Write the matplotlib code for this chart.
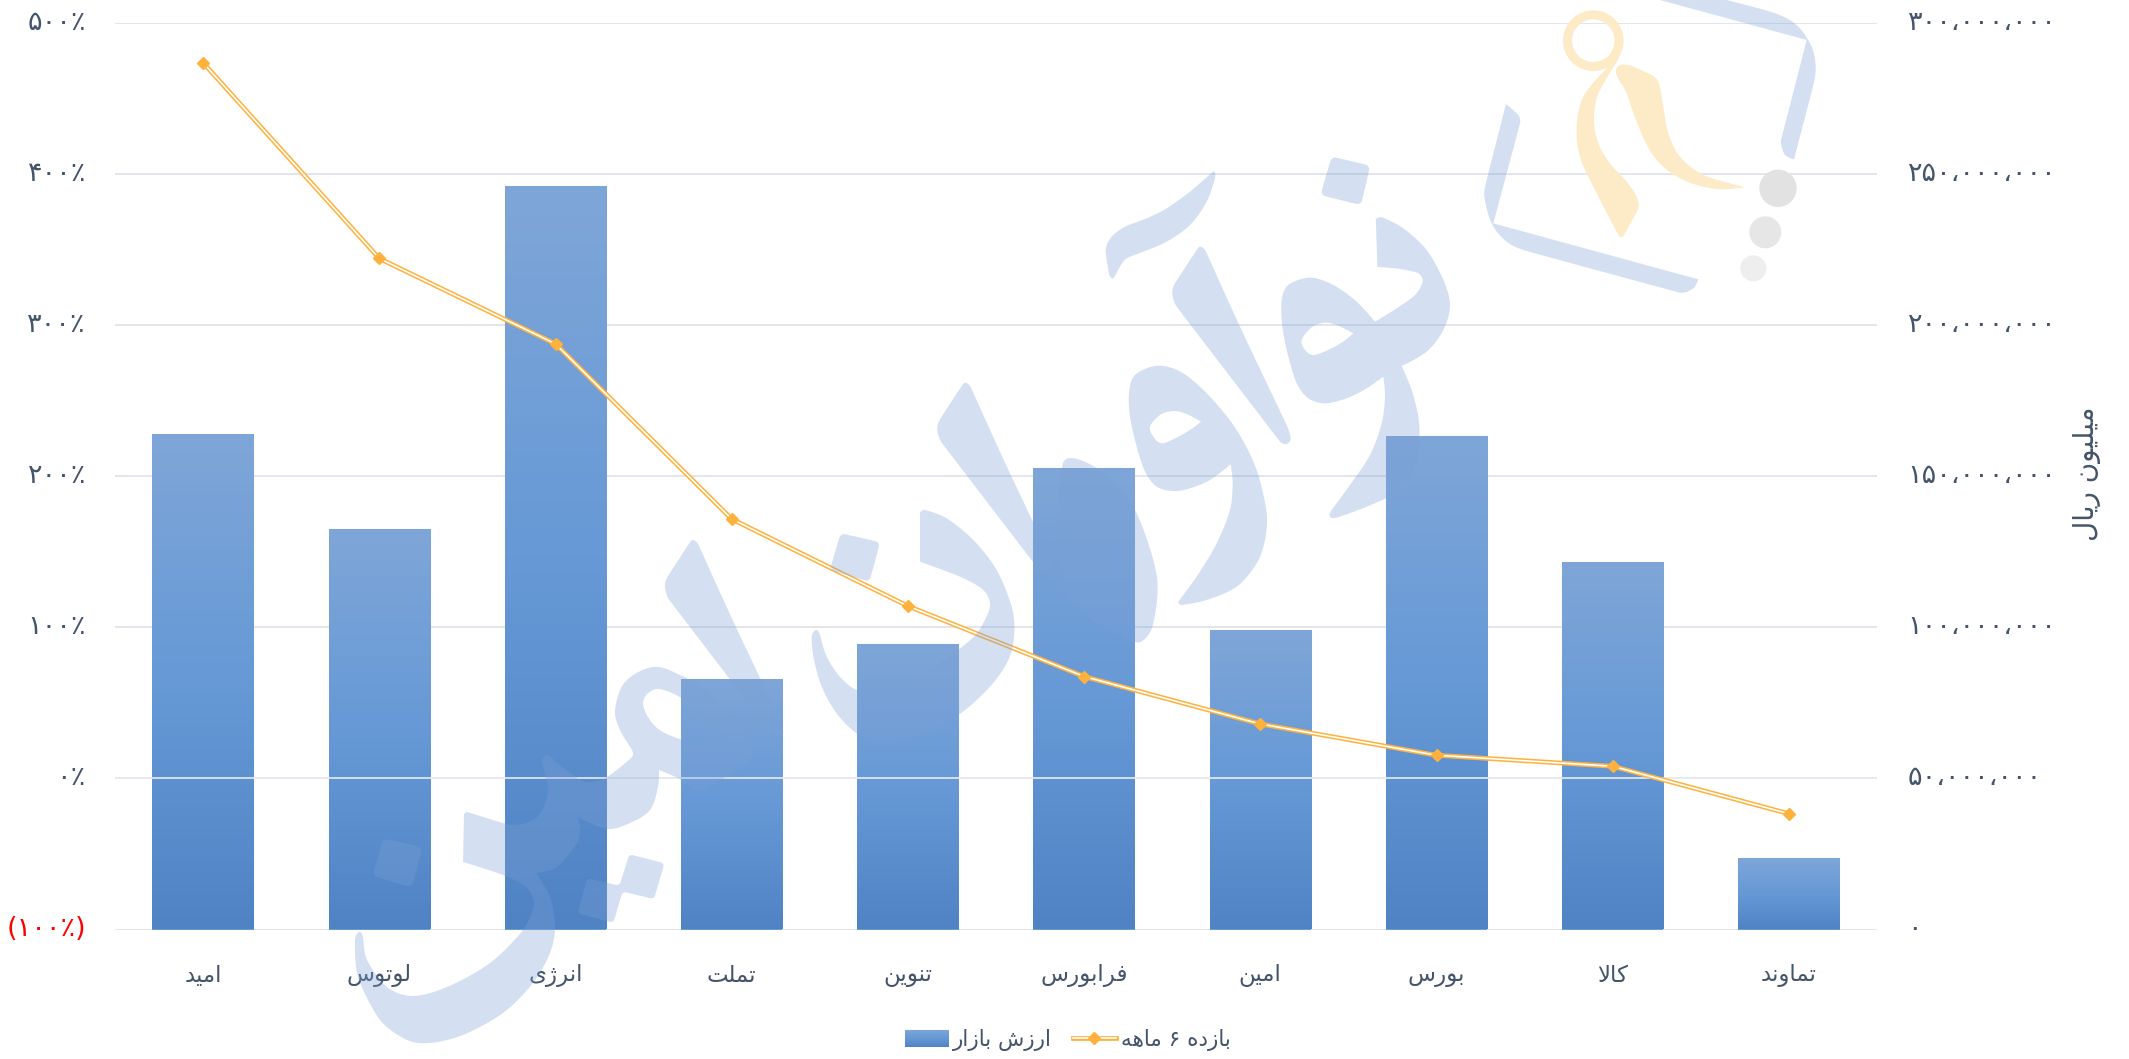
#%%
# IMPORT LIBRARIES
import numpy as np
import matplotlib
matplotlib.use('Agg')
import matplotlib.pyplot as plt
from matplotlib.path import Path
from matplotlib.patches import PathPatch, Patch, Circle
from matplotlib.lines import Line2D
from matplotlib.legend_handler import HandlerTuple
from matplotlib.transforms import ScaledTranslation

plt.rcParams['font.family'] = ['DejaVu Sans']

#%%
# DATA
categories = ['امید', 'لوتوس', 'انرژی', 'تملت', 'تنوین', 'فرابورس', 'امین', 'بورس', 'کالا', 'تماوند']
market_value = [164e6, 132.6e6, 246e6, 82.9e6, 94.6e6, 152.8e6, 99e6, 163.3e6, 121.5e6, 23.6e6]
six_month_return = [473.5, 344, 287.5, 171.6, 114, 67.4, 36, 15.3, 8, -23.4]

value_ticks = [0, 50e6, 100e6, 150e6, 200e6, 250e6, 300e6]
value_ticklabels = ['۰', '۵۰،۰۰۰،۰۰۰', '۱۰۰،۰۰۰،۰۰۰', '۱۵۰،۰۰۰،۰۰۰', '۲۰۰،۰۰۰،۰۰۰', '۲۵۰،۰۰۰،۰۰۰', '۳۰۰،۰۰۰،۰۰۰']
return_ticks = [-100, 0, 100, 200, 300, 400, 500]
return_ticklabels = ['(۱۰۰٪)', '۰٪', '۱۰۰٪', '۲۰۰٪', '۳۰۰٪', '۴۰۰٪', '۵۰۰٪']

bar_label = 'ارزش بازار'
line_label = 'بازده ۶ ماهه'
value_axis_title = 'میلیون ریال'

text_color = '#44546a'
grid_color = '#dfe4ea'
orange = '#ffb13d'

#%%
# persian shaping, matplotlib does no joining or rtl by itself
forms = {
    'ا': (0xFE8D, 0xFE8E, None, None), 'ب': (0xFE8F, 0xFE90, 0xFE91, 0xFE92),
    'ت': (0xFE95, 0xFE96, 0xFE97, 0xFE98), 'د': (0xFEA9, 0xFEAA, None, None),
    'ر': (0xFEAD, 0xFEAE, None, None), 'ز': (0xFEAF, 0xFEB0, None, None),
    'ژ': (0xFB8A, 0xFB8B, None, None), 'س': (0xFEB1, 0xFEB2, 0xFEB3, 0xFEB4),
    'ش': (0xFEB5, 0xFEB6, 0xFEB7, 0xFEB8), 'ف': (0xFED1, 0xFED2, 0xFED3, 0xFED4),
    'ک': (0xFB8E, 0xFB8F, 0xFB90, 0xFB91), 'ل': (0xFEDD, 0xFEDE, 0xFEDF, 0xFEE0),
    'م': (0xFEE1, 0xFEE2, 0xFEE3, 0xFEE4), 'ن': (0xFEE5, 0xFEE6, 0xFEE7, 0xFEE8),
    'و': (0xFEED, 0xFEEE, None, None), 'ه': (0xFEE9, 0xFEEA, 0xFEEB, 0xFEEC),
    'ی': (0xFBFC, 0xFBFD, 0xFBFE, 0xFBFF),
}


def shape(text):
    out = []
    i = 0
    while i < len(text):
        ch = text[i]
        if ch not in forms:
            out.append(ch)
            i += 1
            continue
        prev = text[i - 1] if i > 0 else ' '
        joins_prev = prev in forms and forms[prev][2] is not None
        if ch == 'ل' and i + 1 < len(text) and text[i + 1] == 'ا':
            out.append(chr(0xFEFC if joins_prev else 0xFEFB))
            i += 2
            continue
        next_ch = text[i + 1] if i + 1 < len(text) else ' '
        joins_next = forms[ch][2] is not None and next_ch in forms
        if joins_prev and joins_next:
            code = forms[ch][3]
        elif joins_prev:
            code = forms[ch][1]
        elif joins_next:
            code = forms[ch][2]
        else:
            code = forms[ch][0]
        out.append(chr(code))
        i += 1
    return ''.join(reversed(out))


#%%
# FIGURE
W, H = 2129, 1059
fig = plt.figure(figsize=(W / 100, H / 100), dpi=100, facecolor='white')
ax = fig.add_axes([115 / W, 1 - 929.5 / H, (1877 - 115) / W, (929.5 - 22.7) / H])
ax2 = ax.twinx()

x = np.arange(len(categories))

# bars with office style gradient
grad_colors = np.array([[0x7f, 0xa6, 0xd8], [0x66, 0x99, 0xd6], [0x50, 0x83, 0xc4]]) / 255
t = np.linspace(0, 1, 256)
grad = np.stack([np.interp(t, [0, 0.5, 1], grad_colors[:, c]) for c in range(3)], axis=1)[:, None, :]

bars = ax.bar(x, market_value, width=0.575, color='#6699d6', zorder=2)
for b in bars:
    im = ax.imshow(grad, aspect='auto', zorder=2.5,
                   extent=(b.get_x(), b.get_x() + b.get_width(), 0, b.get_height()))
    im.set_clip_path(b)

ax.set_xlim(-0.5, len(categories) - 0.5)
ax.set_ylim(0, 300e6)
ax2.set_ylim(-100, 500)

ax.yaxis.tick_right()
ax2.yaxis.tick_left()
ax.set_yticks(value_ticks)
ax.set_yticklabels(value_ticklabels, fontsize=19.5, color=text_color)
ax2.set_yticks(return_ticks)
ax2.set_yticklabels(return_ticklabels, fontsize=19.5, color=text_color)
ax2.get_yticklabels()[0].set_color('#ff0000')
ax.tick_params(axis='y', length=0, pad=22)
ax2.tick_params(axis='y', length=0, pad=21)
ax.set_xticks(x)
ax.set_xticklabels([shape(c) for c in categories], fontsize=16.5, color=text_color)
ax.tick_params(axis='x', length=0, pad=25)

# labels sit a little above the gridlines
nudge = ScaledTranslation(0, 3 / 100, fig.dpi_scale_trans)
for lab in ax.get_yticklabels() + ax2.get_yticklabels():
    lab.set_transform(lab.get_transform() + nudge)

ax.yaxis.grid(True, color=grid_color, lw=1.3)
ax.set_axisbelow(True)
for a in [ax, ax2]:
    for s in a.spines.values():
        s.set_visible(False)

# zero line runs over the bars
ax2.axhline(0, color='#e8ecf1', lw=1.2, zorder=1)

# double line
ax2.plot(x, six_month_return, color=orange, lw=3.4, zorder=3, solid_joinstyle='miter')
ax2.plot(x, six_month_return, color='white', lw=1.2, zorder=3.1, solid_joinstyle='miter')
ax2.plot(x, six_month_return, ls='none', marker='D', ms=6.5, color=orange, mec=orange, zorder=3.2)

fig.text(2087 / W, 1 - 474 / H, shape(value_axis_title), rotation=90, ha='center', va='center',
         fontsize=20, color=text_color)

# legend
h_bar = Patch(facecolor='#6699d6', edgecolor='none')
h_line = (Line2D([], [], color=orange, lw=3.4),
          Line2D([], [], color='white', lw=1.2),
          Line2D([], [], ls='none', marker='D', ms=6.5, color=orange))
leg = fig.legend([h_bar, h_line], [shape(bar_label), shape(line_label)], ncols=2, frameon=False,
                 loc='center', bbox_to_anchor=(1068 / W, 1 - 1040 / H), fontsize=15.5, labelcolor=text_color,
                 handlelength=2.0, handleheight=0.85, handletextpad=0.25, columnspacing=0.95,
                 handler_map={tuple: HandlerTuple(ndivide=1, pad=0)})
fig.canvas.draw()
swatch = leg.legend_handles[0].get_window_extent().transformed(fig.transFigure.inverted())
# legend has zorder 5, the swatch has to go over it
ax_sw = fig.add_axes(swatch.bounds, zorder=6)
ax_sw.imshow(grad, aspect='auto')
ax_sw.axis('off')

#%%
# WATERMARK, traced by eye in pixel coords
wm_ax = fig.add_axes([0, 0, 1, 1], zorder=10)
wm_ax.set_xlim(0, W)
wm_ax.set_ylim(H, 0)
wm_ax.axis('off')
wm_color = (0x7b / 255, 0xa0 / 255, 0xd6 / 255, 0.32)


def smooth(pts, n=10):
    # closed hermite curve, a repeated point is a sharp corner
    p, corner = [], []
    for q in pts:
        q = np.array(q, float)
        if p and np.allclose(p[-1], q):
            corner[-1] = True
        else:
            p.append(q)
            corner.append(False)
    m = len(p)
    tang = []
    for i in range(m):
        a, b, c = p[i - 1], p[i], p[(i + 1) % m]
        if corner[i]:
            tang.append(np.zeros(2))
            continue
        d = c - a
        # keep the tangent short next to a short segment, stops overshoot
        size = min(np.linalg.norm(b - a), np.linalg.norm(c - b))
        tang.append(d / (np.linalg.norm(d) + 1e-9) * size)
    out = []
    for i in range(m):
        j = (i + 1) % m
        for s in np.linspace(0, 1, n, endpoint=False):
            out.append((2 * s ** 3 - 3 * s ** 2 + 1) * p[i] + (s ** 3 - 2 * s ** 2 + s) * tang[i]
                       + (-2 * s ** 3 + 3 * s ** 2) * p[j] + (s ** 3 - s ** 2) * tang[j])
    return np.array(out)


def ring_area(v):
    return 0.5 * np.sum(v[:, 0] * np.roll(v[:, 1], -1) - np.roll(v[:, 0], -1) * v[:, 1])


def crop(origin, pts):
    # zoomed crop coords (3x) to full image coords
    return [(origin[0] + a / 3, origin[1] + b / 3) for a, b in pts]


def shift(pts, dx, dy):
    return [(a + dx, b + dy) for a, b in pts]


def rounded(pts, r=4):
    # polygon with small round corners
    p = [np.array(q, float) for q in pts]
    out = []
    for i in range(len(p)):
        a, b, c = p[i - 1], p[i], p[(i + 1) % len(p)]
        out.append(b + (a - b) / np.linalg.norm(a - b) * r)
        out.append(b + (c - b) / np.linalg.norm(c - b) * r)
    return out


def blob(outer, holes=(), color=wm_color):
    verts, codes = [], []
    for k, ring in enumerate([outer] + list(holes)):
        v = smooth(ring)
        if (ring_area(v) > 0) != (k == 0):
            v = v[::-1]
        verts += list(v) + [v[0]]
        codes += [Path.MOVETO] + [Path.LINETO] * (len(v) - 1) + [Path.CLOSEPOLY]
    wm_ax.add_patch(PathPatch(Path(np.array(verts), codes), facecolor=color, edgecolor='none'))


o6 = (1050, 130)
o7 = (600, 360)
o8 = (330, 720)
o5 = (1350, 0)

# madda
blob(crop(o6, [(490, 125), (495, 145), (470, 215), (420, 285), (350, 335), (280, 365), (230, 385), (210, 410),
               (190, 445), (178, 435), (167, 360), (185, 320), (225, 290), (290, 265), (350, 235), (420, 185)]))
# three alefs
alef = crop(o6, [(452, 350), (468, 365), (570, 590), (710, 885), (722, 925), (710, 942), (690, 935), (380, 530),
                 (367, 490), (375, 460), (440, 360)])
blob(alef)
blob(shift(alef, -235, 136))
blob(shift(alef, -507.4, 293.3))
# fa/noon head top right
blob(crop(o6, [(980, 265), (1000, 263), (1060, 295), (1130, 360), (1180, 450), (1200, 525), (1180, 600), (1130, 665),
               (1055, 708), (1055, 708), (1085, 780), (1105, 860), (1108, 930), (1095, 1010), (1040, 1085), (950, 1130),
               (860, 1163), (840, 1160), (845, 1140), (900, 1065), (960, 975), (995, 880), (1005, 800), (1000, 740),
               (1000, 740), (950, 775), (890, 805), (825, 820), (775, 805), (740, 760), (715, 680), (697, 590), (695, 510),
               (715, 465), (780, 443), (850, 465), (920, 515), (975, 575), (975, 575), (1040, 535), (1095, 495), (1118, 455),
               (1105, 430), (1050, 417), (982, 411), (982, 411), (978, 280)]),
     [crop(o6, [(910, 610), (910, 610), (860, 585), (825, 578), (785, 592), (755, 630), (765, 660), (790, 675), (830, 662), (875, 638)])])
# waw
blob(crop(o6, [(325, 707), (400, 730), (480, 800), (560, 900), (620, 1020), (650, 1150), (645, 1230), (620, 1300),
               (560, 1370), (470, 1410), (395, 1425), (385, 1415), (440, 1340), (500, 1240), (540, 1140), (548, 1060),
               (542, 1003), (542, 1003), (480, 1050), (420, 1075), (370, 1083), (320, 1070), (285, 1025), (260, 950), (240, 860),
               (237, 790), (255, 735)]),
     [crop(o6, [(453, 875), (453, 875), (410, 852), (370, 843), (330, 855), (300, 890), (310, 920), (335, 940), (375, 925), (420, 900)])])
# small stroke behind the sixth bar
blob([(1063, 463), (1100, 470), (1135, 510), (1157, 577), (1152, 628), (1135, 642), (1063, 590)])
# ra
blob(crop(o7, [(960, 460), (975, 450), (1040, 475), (1120, 540), (1190, 630), (1235, 740), (1243, 820), (1225, 900),
               (1170, 980), (1075, 1065), (950, 1130), (840, 1145), (770, 1120), (710, 1060), (665, 980), (640, 890),
               (635, 830), (648, 810), (660, 825), (680, 890), (720, 950), (770, 990), (850, 1000), (950, 960),
               (1060, 880), (1130, 820), (1170, 740), (1150, 690), (1080, 650), (960, 605), (960, 605)]))
# big lower left letter
blob([(653, 667), (680, 675), (710, 693), (745, 730), (750, 760), (700, 790), (680, 779), (659, 770), (659, 770), (658, 787),
      (650, 810), (630, 823), (607, 829), (577, 817), (577, 817), (580, 827), (577, 843), (557, 867), (536, 873), (536, 873), (550, 897),
      (555, 927), (550, 953), (533, 983), (503, 1013), (463, 1035), (430, 1043), (407, 1040), (380, 1020),
      (358, 977), (355, 940), (359, 932), (363, 937), (367, 960), (387, 987), (413, 996), (447, 987), (490, 963),
      (523, 930), (534, 905), (527, 888), (503, 875), (463, 862), (463, 862), (464, 815), (467, 812), (503, 823), (517, 825),
      (537, 817), (548, 792), (542, 762), (547, 755), (560, 765), (585, 782), (607, 777), (632, 757), (632, 750),
      (620, 730), (615, 710), (625, 682)],
     [[(643, 703), (657, 689), (685, 700), (715, 725), (725, 745), (690, 742), (657, 728)]])
# square dots
blob(rounded(crop(o6, [(845, 80), (960, 107), (933, 225), (812, 195)])))
blob(rounded(crop(o7, [(722, 520), (840, 547), (808, 665), (690, 630)])))
blob(rounded(crop(o8, [(160, 355), (277, 382), (245, 502), (128, 467)])))
blob(rounded(crop(o8, [(898, 403), (1003, 430), (972, 537), (878, 515), (850, 608), (743, 580), (772, 475), (868, 497)]), r=3))
# logo frame
blob(crop(o5, [(930, 0), (930, 0), (1130, 0), (1130, 0), (1270, 38), (1340, 75), (1385, 140), (1397, 200), (1390, 255), (1332, 478),
               (1332, 478), (1305, 465), (1293, 430), (1297, 405), (1370, 120), (1370, 120)]))
blob(crop(o5, [(468, 312), (468, 312), (410, 540), (403, 590), (425, 670), (470, 725), (530, 753), (990, 878), (1030, 865), (1045, 838),
               (1045, 838), (430, 670), (430, 670), (510, 370), (505, 345)]))
# orange figure
figure_color = '#fdeac6'
wm_ax.add_patch(Circle((1593.3, 40.7), 25.8, fill=False, edgecolor=figure_color, lw=6.5))
blob(crop(o5, [(810, 170), (810, 170), (765, 210), (700, 290), (680, 380), (690, 470), (730, 560), (805, 705), (815, 712), (825, 700),
               (865, 625), (860, 590), (830, 545), (780, 490), (745, 430), (732, 360), (745, 280)]), color=figure_color)
blob(crop(o5, [(803, 200), (890, 218), (925, 245), (940, 320), (955, 400), (990, 470), (1060, 525), (1185, 562), (1185, 562),
               (1100, 567), (1000, 540), (920, 480), (870, 390), (830, 280)]), color=figure_color)
# grey dots
wm_ax.add_patch(Circle((1778, 188.3), 18.7, facecolor='#e2e2e2', edgecolor='none'))
wm_ax.add_patch(Circle((1765.3, 232.3), 16, facecolor='#e6e6e6', edgecolor='none'))
wm_ax.add_patch(Circle((1753.3, 268.3), 13, facecolor='#eeeeee', edgecolor='none'))

fig.savefig('out.png', dpi=100)
